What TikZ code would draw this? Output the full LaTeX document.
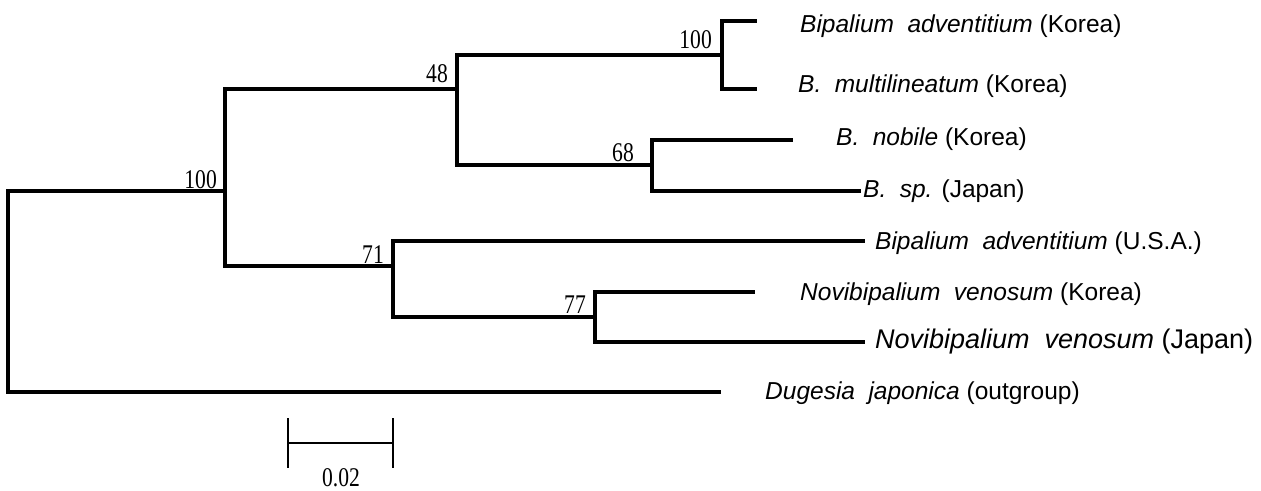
\documentclass[tikz,border=0pt]{standalone}
\usepackage{fontspec}
\setmainfont{Liberation Sans}
\newfontfamily\numfont{Liberation Serif}
\usetikzlibrary{calc}
\newcommand{\bsv}[1]{\scalebox{0.8}[1]{#1}}
\newcommand{\wsp}{\hspace{0.55em}}
\begin{document}
\begin{tikzpicture}[x=1pt,y=-1pt,
  branch/.style={line width=3.2pt},
  leaf/.style={anchor=west, inner sep=0pt, font=\fontsize{24.5}{28}\selectfont},
  bigleaf/.style={anchor=west, inner sep=0pt, font=\fontsize{27}{30}\selectfont},
  boot/.style={anchor=base east, inner sep=0pt, font=\fontsize{27}{28}\numfont},
  scalebar/.style={line width=1.7pt},
  scalelabel/.style={anchor=north, inner sep=0pt, font=\fontsize{27}{28}\numfont}]
\useasboundingbox (0,0) rectangle (1261,490);

% internal nodes
\coordinate (r) at (8,291);
\coordinate (A) at (225,191);
\coordinate (B) at (457,89);
\coordinate (C) at (722,55);
\coordinate (D) at (652,165);
\coordinate (E) at (393,266);
\coordinate (F) at (595,317);

% leaf ends
\coordinate (l1) at (757,21);
\coordinate (l2) at (757,89);
\coordinate (l3) at (793,140);
\coordinate (l4) at (861,191);
\coordinate (l5) at (865,241);
\coordinate (l6) at (755,292);
\coordinate (l7) at (865,342);
\coordinate (l8) at (721,392);

% branches
\draw[branch] (r) |- (A);
\draw[branch] (r) |- (l8);
\draw[branch] (A) |- (B);
\draw[branch] (A) |- (E);
\draw[branch] (B) |- (C);
\draw[branch] (B) |- (D);
\draw[branch] (C) |- (l1);
\draw[branch] (C) |- (l2);
\draw[branch] (D) |- (l3);
\draw[branch] (D) |- (l4);
\draw[branch] (E) |- (l5);
\draw[branch] (E) |- (F);
\draw[branch] (F) |- (l6);
\draw[branch] (F) |- (l7);

% bootstrap values
\node[boot] (bA) at (217,188) {\bsv{100}};
\node[boot] (bB) at (448,82) {\bsv{48}};
\node[boot] (bC) at (712,48) {\bsv{100}};
\node[boot] (bD) at (634,161) {\bsv{68}};
\node[boot] (bE) at (384,263) {\bsv{71}};
\node[boot] (bF) at (586,313) {\bsv{77}};

% taxa
\node[leaf] (t1) at (800,26) {\textit{Bipalium\wsp adventitium} (Korea)};
\node[leaf] (t2) at (798,86) {\textit{B.\wsp multilineatum} (Korea)};
\node[leaf] (t3) at (836,139) {\textit{B.\wsp nobile} (Korea)};
\node[leaf] (t4) at (863,191) {\textit{B.\wsp sp.} (Japan)};
\node[leaf] (t5) at (875,243) {\textit{Bipalium\wsp adventitium} (U.S.A.)};
\node[leaf] (t6) at (800,294) {\textit{Novibipalium\wsp venosum} (Korea)};
\node[bigleaf] (t7) at (875,342) {\textit{Novibipalium\wsp venosum} (Japan)};
\node[leaf] (t8) at (765,393) {\textit{Dugesia\wsp japonica} (outgroup)};

% scale bar
\coordinate (s1) at (288,443);
\coordinate (s2) at (393,443);
\draw[scalebar] (s1) -- (s2);
\draw[scalebar] ($(s1)+(0,-25)$) -- ($(s1)+(0,25)$);
\draw[scalebar] ($(s2)+(0,-25)$) -- ($(s2)+(0,25)$);
\node[scalelabel] (sl) at (341,468) {\bsv{0.02}};
\end{tikzpicture}
\end{document}
